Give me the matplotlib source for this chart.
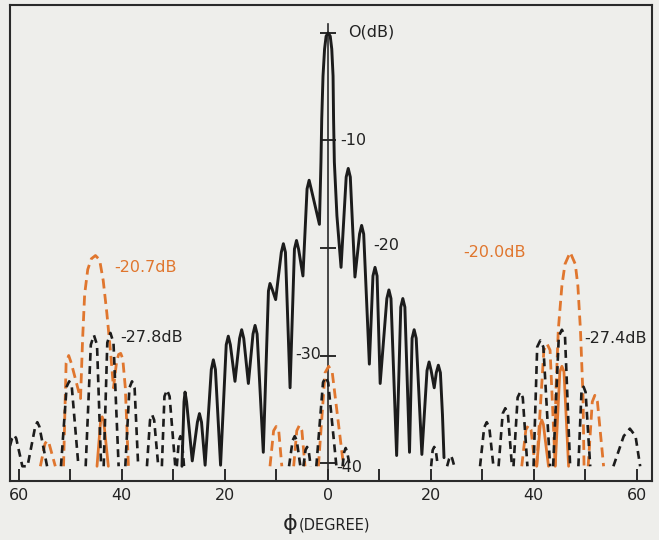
import numpy as np
import matplotlib
matplotlib.use("Agg")
import matplotlib.pyplot as plt

plt.rcParams['font.family'] = ['DejaVu Sans']

# ---------------- data (phi in degrees, level in dB) ----------------
main_pattern = [(-28.3, -40.3), (-27.9, -34.3), (-27.7, -33.4), (-27.4, -34.3), (-26.3, -39.8),
                (-25.3, -36.2), (-24.9, -35.4), (-24.5, -36.2), (-23.8, -40.2),
                (-22.6, -31.3), (-22.2, -30.4), (-21.8, -31.3), (-20.8, -40.2),
                (-19.7, -29.0), (-19.3, -28.2), (-18.9, -29.0), (-18.0, -32.4),
                (-17.1, -28.4), (-16.7, -27.6), (-16.3, -28.4), (-15.4, -32.6),
                (-14.5, -28.0), (-14.1, -27.2), (-13.7, -28.0), (-12.5, -39.0),
                (-11.5, -24.0), (-11.2, -23.3), (-10.8, -23.8), (-10.1, -24.8),
                (-9.0, -20.4), (-8.6, -19.6), (-8.2, -20.4), (-7.3, -33.0),
                (-6.45, -20.1), (-6.05, -19.3), (-5.65, -20.1), (-4.8, -22.6),
                (-4.0, -14.5), (-3.6, -13.7), (-3.2, -14.5), (-1.6, -17.8),
                (-1.3, -12.0), (-1.15, -8.0), (-0.9, -4.0), (-0.6, -1.5), (-0.3, -0.3),
                (0.1, 0.0), (0.5, -0.3), (0.8, -1.5), (1.05, -4.0), (1.15, -8.0),
                (1.3, -12.0), (1.8, -17.0), (2.6, -21.8),
                (3.6, -13.4), (4.0, -12.6), (4.4, -13.4), (5.3, -22.7),
                (6.2, -18.7), (6.6, -17.9), (7.0, -18.7), (8.1, -30.8),
                (8.8, -22.6), (9.2, -21.8), (9.6, -22.6), (10.2, -32.6),
                (11.5, -24.7), (11.9, -23.9), (12.3, -24.7), (13.4, -39.3),
                (14.2, -25.5), (14.6, -24.7), (15.0, -25.5), (15.9, -39.0),
                (16.4, -28.4), (16.8, -27.6), (17.2, -28.4), (18.3, -39.2),
                (19.3, -31.4), (19.7, -30.6), (20.1, -31.4), (20.7, -33.0),
                (21.1, -31.6), (21.5, -30.9), (21.9, -31.6), (22.3, -35.5), (22.6, -39.5)]

black_dashed_lobes = [
    [(-61.7, -38.4), (-61.3, -37.7), (-60.9, -37.4), (-60.5, -37.7), (-59.3, -40.3),
     (-58.3, -40.3), (-56.8, -36.6), (-56.4, -36.2), (-56.0, -36.6), (-54.5, -40.3)],
    [(-51.8, -40.3), (-50.7, -32.9), (-50.2, -32.4), (-49.7, -32.9), (-48.4, -40.3)],
    [(-47.0, -40.3), (-46.0, -29.0), (-45.4, -28.1), (-44.8, -29.0), (-44.0, -40.3)],
    [(-43.5, -40.3), (-42.8, -28.8), (-42.2, -27.9), (-41.6, -28.8), (-40.6, -40.3)],
    [(-39.3, -40.3), (-38.5, -33.0), (-38.0, -32.4), (-37.5, -33.0), (-36.8, -40.3)],
    [(-35.1, -40.3), (-34.5, -36.0), (-34.1, -35.5), (-33.7, -36.0), (-32.9, -40.3)],
    [(-32.2, -40.3), (-31.7, -33.8), (-31.2, -33.2), (-30.7, -33.8), (-29.6, -40.3)],
    [(-29.3, -40.3), (-28.9, -37.9), (-28.6, -37.5), (-28.3, -37.9), (-27.9, -40.3)],
    [(-7.5, -40.3), (-6.8, -37.9), (-6.4, -37.5), (-6.0, -37.9), (-5.3, -40.3)],
    [(-4.7, -40.3), (-4.3, -38.8), (-4.0, -38.5), (-3.7, -38.8), (-3.3, -40.3)],
    [(-2.2, -40.3), (-0.9, -32.5), (-0.4, -32.0), (0.1, -32.5), (1.7, -40.3)],
    [(2.9, -40.3), (3.2, -39.0), (3.5, -38.6), (3.8, -39.0), (4.3, -40.3)],
    [(20.1, -40.3), (20.4, -38.8), (20.7, -38.5), (21.0, -38.8), (21.4, -40.3)],
    [(23.2, -40.3), (23.6, -39.6), (23.9, -39.3), (24.2, -39.6), (24.6, -40.3)],
    [(29.6, -40.3), (30.4, -36.7), (30.9, -36.2), (31.4, -36.7), (32.2, -40.3)],
    [(33.2, -40.3), (34.0, -35.4), (34.5, -34.9), (35.0, -35.4), (35.8, -40.3)],
    [(36.1, -40.3), (36.9, -33.9), (37.4, -33.4), (37.9, -33.9), (38.8, -40.3)],
    [(40.0, -40.3), (40.7, -29.2), (41.3, -28.6), (41.9, -29.2), (43.2, -40.3)],
    [(43.8, -40.3), (44.9, -28.2), (45.5, -27.6), (46.1, -28.2), (47.1, -40.3)],
    [(48.7, -40.3), (49.3, -33.4), (49.7, -32.9), (50.1, -33.4), (51.0, -40.3)],
    [(55.5, -40.3), (57.5, -37.5), (58.7, -36.8), (59.8, -37.5), (60.7, -40.3)],
]

orange_dashed_lobes = [
    [(-55.8, -40.3), (-54.9, -38.2), (-54.5, -37.9), (-54.1, -38.2), (-52.9, -40.3)],
    [(-51.3, -40.3), (-50.8, -30.7), (-50.3, -30.0), (-49.8, -30.7), (-48.0, -34.0),
     (-47.6, -28.5), (-47.2, -24.3), (-46.6, -22.0), (-45.9, -21.0), (-45.1, -20.7),
     (-44.3, -21.1), (-43.6, -23.0), (-42.9, -26.0), (-42.2, -29.5), (-41.6, -33.0),
     (-41.0, -30.6), (-40.6, -29.9), (-40.2, -29.8), (-39.8, -30.3), (-39.3, -33.0), (-38.7, -40.3)],
    [(-11.2, -40.3), (-10.5, -37.0), (-10.0, -36.6), (-9.5, -37.0), (-8.9, -40.3)],
    [(-6.6, -40.3), (-6.0, -37.0), (-5.5, -36.5), (-5.0, -37.0), (-4.4, -40.3)],
    [(-1.8, -40.3), (-0.5, -31.6), (0.2, -31.0), (0.9, -31.6), (3.1, -40.3)],
    [(37.7, -40.3), (38.5, -36.9), (39.0, -36.5), (39.5, -36.9), (40.3, -40.3)],
    [(40.6, -40.3), (42.0, -29.5), (42.6, -28.9), (43.2, -29.5), (44.2, -40.3)],
    [(44.2, -40.3), (44.3, -33.8), (44.8, -27.6), (45.5, -23.5), (46.1, -21.5), (47.1, -20.4),
     (48.1, -21.5), (48.6, -23.5), (49.1, -27.6), (49.6, -33.8), (49.8, -40.3)],
    [(50.6, -40.3), (51.4, -34.3), (51.9, -33.7), (52.4, -34.3), (53.6, -40.3)],
]

orange_solid_lobes = [
    [(-44.8, -40.3), (-44.1, -36.1), (-43.8, -35.7), (-43.5, -36.1), (-42.6, -40.3)],
    [(40.6, -40.3), (41.3, -36.4), (41.6, -36.0), (41.9, -36.4), (42.9, -40.3)],
    [(44.2, -40.3), (45.1, -31.5), (45.5, -31.0), (45.9, -31.5), (46.8, -40.3)],
]

x_ticks = [-60, -50, -40, -30, -20, -10, 0, 10, 20, 30, 40, 50, 60]
x_tick_labels = ['60', '', '40', '', '20', '', '0', '', '20', '', '40', '', '60']
db_ticks = [0, -10, -20, -30, -40]

# ---------------- style ----------------
bg = '#eeeeeb'
black = '#1c1c1c'
orange = '#e0762e'

fig = plt.figure(figsize=(6.59, 5.40), dpi=100, facecolor=bg)
W, H = 659, 540
ax = fig.add_axes([10 / W, 1 - 481 / H, (652 - 10) / W, (481 - 5) / H])
ax.set_facecolor(bg)
ymin, ymax = -41.67, 2.6
ax.set_xlim(-61.7, 63.0)
ax.set_ylim(ymin, ymax)

for s in ax.spines.values():
    s.set_linewidth(1.5)
    s.set_color('#2a2a2a')

ax.set_xticks(x_ticks)
ax.set_xticklabels(x_tick_labels)
ax.set_yticks([])
ax.tick_params(axis='x', direction='in', length=9, width=1.4, color='#2a2a2a',
               labelsize=11.5, pad=5, labelcolor='#222222')

# centre axis with dB crosses
ax.axvline(0, ymin=0, ymax=(0.8 - ymin) / (ymax - ymin), color='#2a2a2a', lw=1.2)
ax.plot(np.zeros(len(db_ticks)), db_ticks, ls='none', marker='_', ms=12, mew=1.4, color='#2a2a2a')


def draw(pts, **kw):
    p = np.array(pts)
    ax.plot(p[:, 0], p[:, 1], solid_capstyle='round', solid_joinstyle='round',
            dash_capstyle='butt', dash_joinstyle='round', **kw)


for lobe in orange_solid_lobes:
    draw(lobe, color=orange, lw=2.0)
for lobe in orange_dashed_lobes:
    draw(lobe, color=orange, lw=2.0, ls=(0, (3.6, 2.0)))
for lobe in black_dashed_lobes:
    draw(lobe, color=black, lw=1.9, ls=(0, (3.0, 2.0)))
draw(main_pattern, color=black, lw=2.1)

# annotations
fs = 11.5
ax.text(4.0, 0.1, 'O(dB)', fontsize=fs, ha='left', va='center', color='#222222')
ax.text(2.4, -10.0, '-10', fontsize=fs, ha='left', va='center', color='#222222')
ax.text(8.8, -19.8, '-20', fontsize=fs, ha='left', va='center', color='#222222')
ax.text(-1.3, -29.9, '-30', fontsize=fs, ha='right', va='center', color='#222222')
ax.text(1.6, -40.4, '-40', fontsize=fs, ha='left', va='center', color='#222222')

ax.text(-41.5, -21.8, '-20.7dB', fontsize=fs, ha='left', va='center', color=orange)
ax.text(-40.3, -28.3, '-27.8dB', fontsize=fs, ha='left', va='center', color='#222222')
ax.text(26.3, -20.4, '-20.0dB', fontsize=fs, ha='left', va='center', color=orange)
ax.text(49.8, -28.4, '-27.4dB', fontsize=fs, ha='left', va='center', color='#222222')

fig.text(290 / W, 1 - 524 / H, '\u03d5', fontsize=16, ha='center', va='center', color='#222222')
fig.text(299 / W, 1 - 525 / H, '(DEGREE)', fontsize=10.5, ha='left', va='center', color='#222222')

fig.savefig('out.png', dpi=100, facecolor=bg)
